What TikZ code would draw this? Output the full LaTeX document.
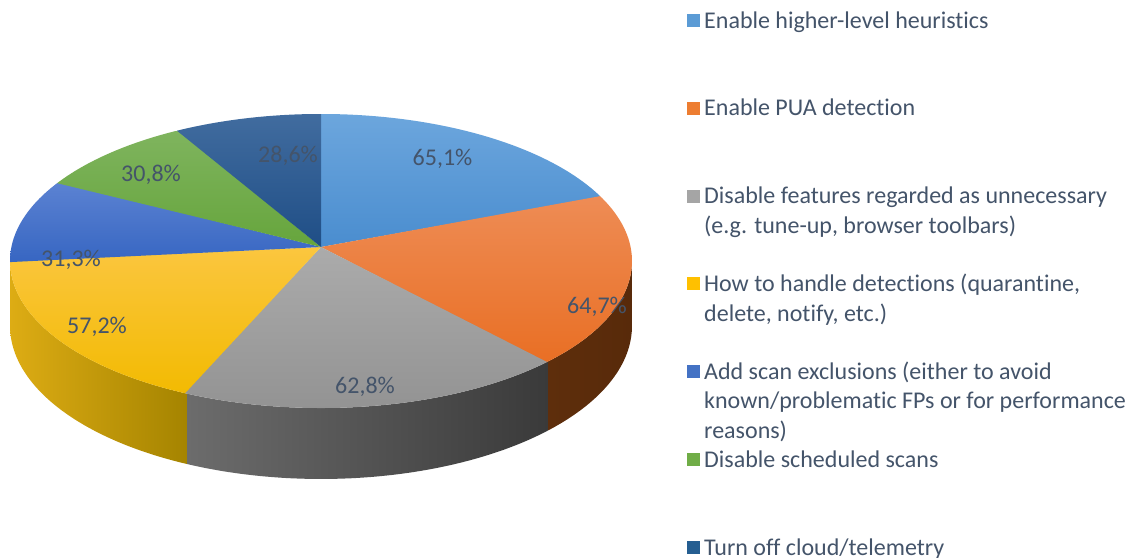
\documentclass[tikz,border=0pt]{standalone}
\usepackage{fontspec}
\setmainfont{Carlito}[Ligatures=NoCommon]

\definecolor{txt}{HTML}{44546A}
% base series colours (legend markers)
\definecolor{cA}{HTML}{5B9BD5}
\definecolor{cB}{HTML}{ED7D31}
\definecolor{cC}{HTML}{A5A5A5}
\definecolor{cD}{HTML}{FFC000}
\definecolor{cE}{HTML}{4472C4}
\definecolor{cF}{HTML}{70AD47}
\definecolor{cG}{HTML}{255E91}
% top-face gradients (light, dark)
\definecolor{aL}{HTML}{6CA6DD}\definecolor{aD}{HTML}{4A8DCF}
\definecolor{bL}{HTML}{EE8C55}\definecolor{bD}{HTML}{E86A1C}
\definecolor{gL}{HTML}{ABABAB}\definecolor{gD}{HTML}{939393}
\definecolor{dL}{HTML}{FBC63F}\definecolor{dD}{HTML}{F2BA00}
\definecolor{eL}{HTML}{5B82D2}\definecolor{eD}{HTML}{3766C2}
\definecolor{fL}{HTML}{7FB45E}\definecolor{fD}{HTML}{66A53C}
\definecolor{hL}{HTML}{416C9F}\definecolor{hD}{HTML}{1F4E86}
% rim gradients (left, right)
\definecolor{ysL}{HTML}{DDAC14}\definecolor{ysR}{HTML}{A58400}
\definecolor{gsL}{HTML}{6C6C6C}\definecolor{gsR}{HTML}{3A3A3A}
\definecolor{osL}{HTML}{5E2E0C}\definecolor{osR}{HTML}{582A0A}

% top face of a slice: start angle, end angle, y from, y to, top colour, bottom colour
\newcommand\sliceTop[6]{%
  \begin{scope}
    \clip (321,247) -- plot[domain=#1:#2,samples=80] ({px(\x)},{pyt(\x)}) -- cycle;
    \shade[top color=#5,bottom color=#6] (0,#3) rectangle (640,#4);
  \end{scope}}

% visible rim of a slice: start angle, end angle, x from, x to, left colour, right colour
\newcommand\sliceSide[6]{%
  \begin{scope}
    \clip plot[domain=#1:#2,samples=80] ({px(\x)},{pyt(\x)})
      -- plot[domain=#2:#1,samples=80] ({px(\x)},{pyb(\x)}) -- cycle;
    \shade[left color=#5,right color=#6] (#3,100) rectangle (#4,500);
  \end{scope}}

\begin{document}
\begin{tikzpicture}[x=1pt,y=-1pt,
  declare function={
    pd(\t)=1+0.0952*sin(\t);
    px(\t)=321+309.6*cos(\t)/pd(\t);
    pyt(\t)=247-145.7*sin(\t)/pd(\t);
    pyb(\t)=pyt(\t)+64.2/pd(\t);
  },
  pct/.style={font=\fontsize{24}{29}\selectfont, text=txt, inner sep=0pt, anchor=base},
  legtext/.style={font=\fontsize{24}{29.5}\selectfont, text=txt, inner sep=0pt, anchor=base west},
  legmark/.style={minimum size=13pt, inner sep=0pt, anchor=south west, draw=none}]

\fill[white] (0,0) rectangle (1137,557);
\useasboundingbox (0,0) rectangle (1137,557);

% rim of the pie (front half); each part reaches slightly under the next
\sliceSide{-174.6}{-113.2}{10}{187}{ysL}{ysR}
\sliceSide{-113.63}{-46.8}{187}{548}{gsL}{gsR}
\sliceSide{-47.23}{-5.4}{548}{633}{osL}{osR}

% top faces, clockwise from twelve o'clock; each reaches slightly under its neighbour
\sliceTop{20.8}{90}{114}{247}{aL}{aD}
\sliceTop{-47.6}{21.17}{196}{390}{bL}{bD}
\sliceTop{-114.0}{-47.23}{247}{409}{gL}{gD}
\sliceTop{-174.5}{-113.63}{247}{397}{dL}{dD}
\sliceTop{152.4}{185.89}{183}{262}{eL}{eD}
\sliceTop{119.9}{152.80}{131}{247}{fL}{fD}
\sliceTop{90}{120.24}{114}{247}{hL}{hD}

% data labels
\node[pct] (pA) at (442.5,165) {65,1\%};
\node[pct] (pB) at (597,313) {64,7\%};
\node[pct] (pC) at (365,393) {62,8\%};
\node[pct] (pD) at (97,333) {57,2\%};
\node[pct] (pE) at (71,266) {31,3\%};
\node[pct] (pF) at (151,181) {30,8\%};
\node[pct] (pG) at (288,162) {28,6\%};

% legend
\node[legmark, fill=cA] (mA) at (687,27) {};
\node[legtext] (tA) at (704,28) {Enable higher-level heuristics};
\node[legmark, fill=cB] (mB) at (687,114.8) {};
\node[legtext] (tB) at (704,115.8) {Enable PUA detection};
\node[legmark, fill=cC] (mC) at (687,202.7) {};
\node[legtext] (tC) at (704,203.7) {\begin{tabular}[t]{@{}l@{}}Disable features regarded as unnecessary\\(e.g. tune-up, browser toolbars)\end{tabular}};
\node[legmark, fill=cD] (mD) at (687,290.5) {};
\node[legtext] (tD) at (704,291.5) {\begin{tabular}[t]{@{}l@{}}How to handle detections (quarantine,\\delete, notify, etc.)\end{tabular}};
\node[legmark, fill=cE] (mE) at (687,378.3) {};
\node[legtext] (tE) at (704,379.3) {\begin{tabular}[t]{@{}l@{}}Add scan exclusions (either to avoid\\known/problematic FPs or for performance\\reasons)\end{tabular}};
\node[legmark, fill=cF] (mF) at (687,466.2) {};
\node[legtext] (tF) at (704,467.2) {Disable scheduled scans};
\node[legmark, fill=cG] (mG) at (687,554) {};
\node[legtext] (tG) at (704,555) {Turn off cloud/telemetry};
\end{tikzpicture}
\end{document}
